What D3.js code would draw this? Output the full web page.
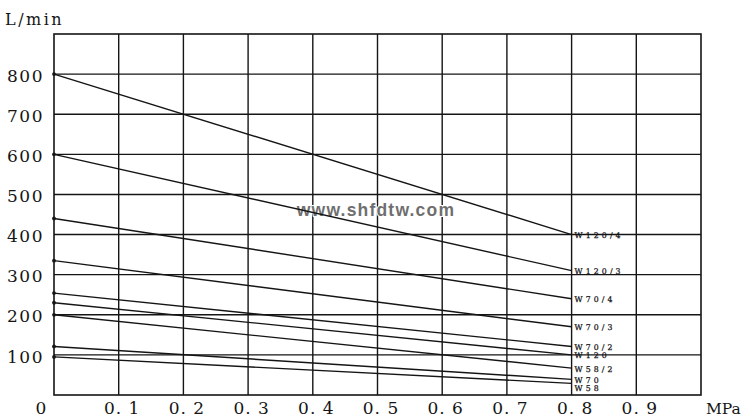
<!DOCTYPE html>
<html>
<head>
<meta charset="utf-8">
<script src="https://cdn.jsdelivr.net/npm/d3@7"></script>
<style>
  html, body { margin: 0; padding: 0; background: #fff; }
  svg { display: block; }
</style>
</head>
<body>
<svg id="chart" width="750" height="420"></svg>
<script>
// ---- data ----
const seriesNames = ["W120/4", "W120/3", "W70/4", "W70/3", "W70/2", "W120", "W58/2", "W70", "W58"];
const startFlow  = [800, 600, 440, 335, 254, 230, 200, 121, 95];   // L/min at 0 MPa
const endFlow    = [400, 310, 240, 170, 121, 100, 67, 39, 29];     // L/min at 0.8 MPa
const pressures  = [0, 0.8];
const xTickValues = [0.1, 0.2, 0.3, 0.4, 0.5, 0.6, 0.7, 0.8, 0.9];
const xTickLabels = ["0. 1", "0. 2", "0. 3", "0. 4", "0. 5", "0. 6", "0. 7", "0. 8", "0. 9"];
const yTickValues = [100, 200, 300, 400, 500, 600, 700, 800];
const yTickLabels = ["100", "200", "300", "400", "500", "600", "700", "800"];

const svg = d3.select("#chart");
const ink = "#151515";
const serif = "'DejaVu Serif', serif";
const x = d3.scaleLinear().domain([0, 1]).range([54, 701]);
const y = d3.scaleLinear().domain([0, 900]).range([395, 34]);

// grid (vertical + horizontal)
const grid = svg.append("g");
grid.selectAll("line.v").data(xTickValues).join("line")
  .attr("x1", d => x(d)).attr("x2", d => x(d))
  .attr("y1", y(0)).attr("y2", y(900))
  .attr("stroke", ink).attr("stroke-width", 1.4);
grid.selectAll("line.h").data(yTickValues).join("line")
  .attr("x1", x(0)).attr("x2", x(1))
  .attr("y1", d => y(d)).attr("y2", d => y(d))
  .attr("stroke", ink).attr("stroke-width", 1.4);
// frame
svg.append("rect")
  .attr("x", x(0)).attr("y", y(900))
  .attr("width", x(1) - x(0)).attr("height", y(0) - y(900))
  .attr("fill", "none").attr("stroke", ink).attr("stroke-width", 1.6);

// watermark
svg.append("text")
  .attr("x", 376).attr("y", 216)
  .attr("text-anchor", "middle")
  .attr("font-family", "'Liberation Sans', Arial, sans-serif")
  .attr("font-weight", "bold")
  .attr("font-size", 17.5)
  .attr("letter-spacing", 1.2)
  .attr("fill", "#6f6f6f")
  .attr("stroke", "#ffffff").attr("stroke-width", 2).attr("paint-order", "stroke")
  .text("www.shfdtw.com");

// series lines
const series = seriesNames.map((n, i) => ({ name: n, values: [startFlow[i], endFlow[i]] }));
const line = d3.line().x((d, i) => x(pressures[i])).y(d => y(d));
svg.append("g").selectAll("path").data(series).join("path")
  .attr("d", d => line(d.values))
  .attr("fill", "none").attr("stroke", ink).attr("stroke-width", 1.4);
svg.append("g").selectAll("circle").data(series).join("circle")
  .attr("cx", x(0)).attr("cy", d => y(d.values[0])).attr("r", 1.9).attr("fill", ink);

// end labels with simple collision avoidance
let prev = -Infinity;
const labelPos = series.map(d => {
  let p = y(d.values[1]) + 1;
  if (p < prev + 8.2) p = prev + 8.2;
  prev = p;
  return p;
});
svg.append("g").selectAll("text").data(series).join("text")
  .attr("x", x(0.8) + 3)
  .attr("y", (d, i) => labelPos[i])
  .attr("dominant-baseline", "central")
  .attr("font-family", serif)
  .attr("font-size", 7.8)
  .attr("letter-spacing", 3.1)
  .attr("fill", ink)
  .attr("stroke", ink).attr("stroke-width", 0.25)
  .text(d => d.name);

// y axis labels
const yAxis = d3.axisLeft(y).tickValues(yTickValues)
  .tickFormat((d, i) => yTickLabels[i]).tickSize(0).tickPadding(10);
const gy = svg.append("g").attr("transform", `translate(${x(0)},0)`).call(yAxis);
gy.select(".domain").remove();
gy.selectAll("text")
  .attr("font-family", serif)
  .attr("font-size", 17).attr("letter-spacing", 1.5)
  .attr("fill", ink).attr("dy", "0.42em");

// x axis labels
const xAxis = d3.axisBottom(x).tickValues(xTickValues)
  .tickFormat((d, i) => xTickLabels[i]).tickSize(0).tickPadding(7);
const gx = svg.append("g").attr("transform", `translate(0,${y(0)})`).call(xAxis);
gx.select(".domain").remove();
gx.selectAll("text")
  .attr("font-family", serif)
  .attr("font-size", 17).attr("letter-spacing", 1)
  .attr("fill", ink).attr("dx", 3);

svg.append("text").attr("x", 41).attr("y", 414).attr("text-anchor", "middle")
  .attr("font-family", serif).attr("font-size", 17).attr("fill", ink).text("0");
svg.append("text").attr("x", 706).attr("y", 414)
  .attr("font-family", serif).attr("font-size", 15.5).attr("fill", ink).text("MPa");
svg.append("text").attr("x", 5).attr("y", 25)
  .attr("font-family", serif).attr("font-size", 16).attr("letter-spacing", 2.5)
  .attr("fill", ink).text("L/min");
</script>
</body>
</html>
